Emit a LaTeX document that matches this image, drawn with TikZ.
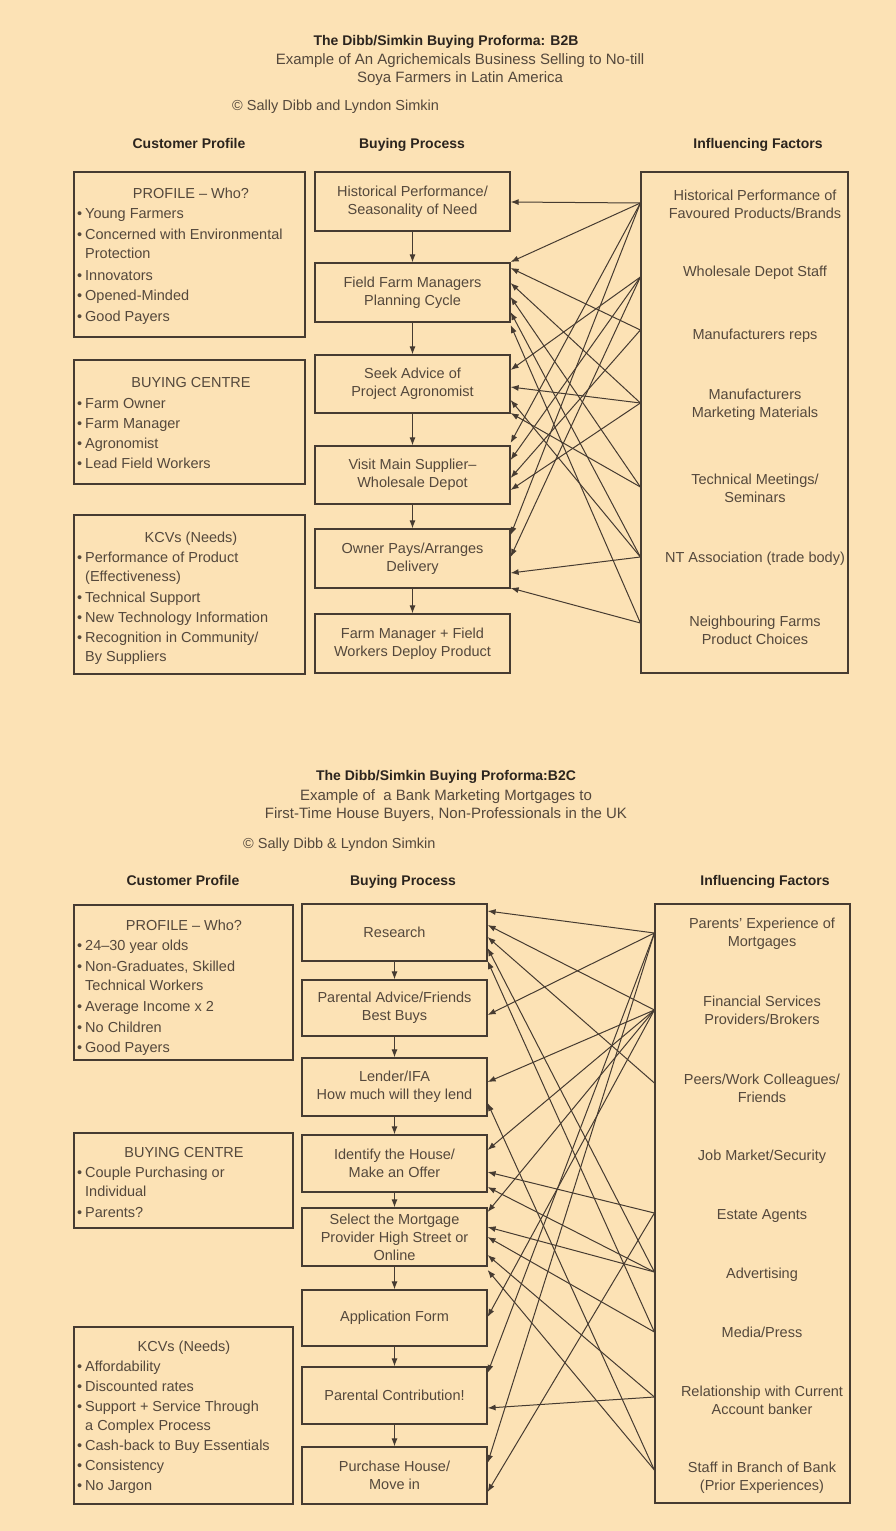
\documentclass[tikz,border=0pt]{standalone}
\usepackage{fontspec}
\setmainfont{Liberation Sans}
\usetikzlibrary{arrows.meta}
\definecolor{paper}{HTML}{FCE2B5}
\definecolor{ink}{HTML}{463B31}
\definecolor{txtc}{HTML}{54483C}
\definecolor{headc}{HTML}{2B241E}
\newcommand{\fbody}{\fontsize{14.5}{18}\selectfont}
\newcommand{\fsub}{\fontsize{15}{18}\selectfont}
\newcommand{\fhead}{\fontsize{14}{17}\selectfont\bfseries}
\newcommand{\bul}{\makebox[8pt][l]{\textbullet}}
\newcommand{\ind}{\hspace*{8pt}}
\begin{document}
\begin{tikzpicture}[x=1pt,y=-1pt,
  frame/.style={draw=ink,line width=1.2pt,inner sep=0pt},
  pbox/.style={frame,align=center,font=\fbody,text=txtc},
  lbl/.style={inner sep=0pt,font=\fbody,text=txtc},
  line/.style={lbl,anchor=base west},
  cline/.style={lbl,anchor=base},
  sub/.style={cline,font=\fsub},
  ttl/.style={inner sep=0pt,font=\fhead,text=headc,anchor=base},
  conn/.style={draw=ink,line width=1pt,-{Latex[length=8pt,width=6pt]}},
  flow/.style={conn}]
\fill[paper] (0,0) rectangle (896,1531);

% ================= B2B =================
\node[ttl] (tA) at (446,45) {The Dibb/Simkin Buying Proforma: B2B};
\node[sub] (sA1) at (460,64) {Example of An Agrichemicals Business Selling to No-till};
\node[sub] (sA2) at (460,82) {Soya Farmers in Latin America};
\node[line] (cA) at (232,110) {\textcopyright\ Sally Dibb and Lyndon Simkin};
\node[ttl] (hA1) at (189,148) {Customer Profile};
\node[ttl] (hA2) at (412,148) {Buying Process};
\node[ttl] (hA3) at (758,148) {Influencing Factors};

% customer profile boxes
\node[frame,minimum width=231pt,minimum height=165pt] (a1) at (189.5,254.5) {};
\node[frame,minimum width=231pt,minimum height=124pt] (a2) at (189.5,422) {};
\node[frame,minimum width=231pt,minimum height=159pt] (a3) at (189.5,594.5) {};

\node[cline] (a1h) at (191,198) {PROFILE -- Who?};
\node[line] (a1i1) at (77,218) {\bul Young Farmers};
\node[line] (a1i2) at (77,239) {\bul Concerned with Environmental};
\node[line] (a1i3) at (77,258) {\ind Protection};
\node[line] (a1i4) at (77,280) {\bul Innovators};
\node[line] (a1i5) at (77,300) {\bul Opened-Minded};
\node[line] (a1i6) at (77,321) {\bul Good Payers};

\node[cline] (a2h) at (191,387) {BUYING CENTRE};
\node[line] (a2i1) at (77,408) {\bul Farm Owner};
\node[line] (a2i2) at (77,428) {\bul Farm Manager};
\node[line] (a2i3) at (77,448) {\bul Agronomist};
\node[line] (a2i4) at (77,468) {\bul Lead Field Workers};

\node[cline] (a3h) at (191,542) {KCVs (Needs)};
\node[line] (a3i1) at (77,562) {\bul Performance of Product};
\node[line] (a3i2) at (77,581) {\ind (Effectiveness)};
\node[line] (a3i3) at (77,602) {\bul Technical Support};
\node[line] (a3i4) at (77,622) {\bul New Technology Information};
\node[line] (a3i5) at (77,642) {\bul Recognition in Community/};
\node[line] (a3i6) at (77,661) {\ind By Suppliers};

% buying process
\node[pbox,minimum width=195pt,minimum height=59pt] (p1) at (412.5,201.5) {Historical Performance/\\Seasonality of Need};
\node[pbox,minimum width=195pt,minimum height=59pt] (p2) at (412.5,292.5) {Field Farm Managers\\Planning Cycle};
\node[pbox,minimum width=195pt,minimum height=58pt] (p3) at (412.5,384) {Seek Advice of\\Project Agronomist};
\node[pbox,minimum width=195pt,minimum height=58pt] (p4) at (412.5,475) {Visit Main Supplier--\\Wholesale Depot};
\node[pbox,minimum width=195pt,minimum height=59pt] (p5) at (412.5,558.5) {Owner Pays/Arranges\\Delivery};
\node[pbox,minimum width=195pt,minimum height=59pt] (p6) at (412.5,643.5) {Farm Manager + Field\\Workers Deploy Product};
\foreach \u/\v in {p1/p2,p2/p3,p3/p4,p4/p5,p5/p6} \draw[flow] (\u.south) -- (\v.north);

% influencing factors
\node[frame,minimum width=207pt,minimum height=501pt] (fA) at (744.5,422.5) {};
\node[lbl,align=center] (fA1) at (755,204) {Historical Performance of\\Favoured Products/Brands};
\node[lbl,align=center] (fA2) at (755,273) {Wholesale Depot Staff};
\node[lbl,align=center] (fA3) at (755,336) {Manufacturers reps};
\node[lbl,align=center] (fA4) at (755,405) {Manufacturers\\Marketing Materials};
\node[lbl,align=center] (fA5) at (755,488) {Technical Meetings/\\Seminars};
\node[lbl,align=center] (fA6) at (755,559) {NT Association (trade body)};
\node[lbl,align=center] (fA7) at (755,630) {Neighbouring Farms\\Product Choices};

\coordinate (bH) at (fA.west |- 0,203);
\coordinate (bW) at (fA.west |- 0,277);
\coordinate (bR) at (fA.west |- 0,330);
\coordinate (bM) at (fA.west |- 0,403);
\coordinate (bT) at (fA.west |- 0,487);
\coordinate (bN) at (fA.west |- 0,557);
\coordinate (bF) at (fA.west |- 0,623);

\foreach \s/\t/\y in {bH/p1/202, bH/p2/262, bH/p4/443, bH/p5/535,
                      bW/p3/370, bW/p4/460, bW/p5/557,
                      bR/p2/268, bR/p4/478,
                      bM/p2/283, bM/p3/387, bM/p4/490,
                      bT/p2/297, bT/p3/413,
                      bN/p2/312, bN/p3/400, bN/p5/573,
                      bF/p2/325, bF/p5/588}
  \draw[conn] (\s) -- (\t.east |- 0,\y);

% ================= B2C =================
\node[ttl] (tB) at (446,780) {The Dibb/Simkin Buying Proforma:B2C};
\node[sub] (sB1) at (446,800) {Example of \ a Bank Marketing Mortgages to};
\node[sub] (sB2) at (446,818) {First-Time House Buyers, Non-Professionals in the UK};
\node[line] (cB) at (243,848) {\textcopyright\ Sally Dibb \& Lyndon Simkin};
\node[ttl] (hB1) at (183,885) {Customer Profile};
\node[ttl] (hB2) at (403,885) {Buying Process};
\node[ttl] (hB3) at (765,885) {Influencing Factors};

\node[frame,minimum width=219pt,minimum height=155pt] (c1) at (183.5,982.5) {};
\node[frame,minimum width=219pt,minimum height=95pt] (c2) at (183.5,1180.5) {};
\node[frame,minimum width=219pt,minimum height=177pt] (c3) at (183.5,1415.5) {};

\node[cline] (c1h) at (184,930) {PROFILE -- Who?};
\node[line] (c1i1) at (77,950) {\bul 24--30 year olds};
\node[line] (c1i2) at (77,971) {\bul Non-Graduates, Skilled};
\node[line] (c1i3) at (77,990) {\ind Technical Workers};
\node[line] (c1i4) at (77,1011) {\bul Average Income x 2};
\node[line] (c1i5) at (77,1032) {\bul No Children};
\node[line] (c1i6) at (77,1052) {\bul Good Payers};

\node[cline] (c2h) at (184,1157) {BUYING CENTRE};
\node[line] (c2i1) at (77,1177) {\bul Couple Purchasing or};
\node[line] (c2i2) at (77,1196) {\ind Individual};
\node[line] (c2i3) at (77,1217) {\bul Parents?};

\node[cline] (c3h) at (184,1351) {KCVs (Needs)};
\node[line] (c3i1) at (77,1371) {\bul Affordability};
\node[line] (c3i2) at (77,1391) {\bul Discounted rates};
\node[line] (c3i3) at (77,1411) {\bul Support + Service Through};
\node[line] (c3i4) at (77,1430) {\ind a Complex Process};
\node[line] (c3i5) at (77,1450) {\bul Cash-back to Buy Essentials};
\node[line] (c3i6) at (77,1470) {\bul Consistency};
\node[line] (c3i7) at (77,1490) {\bul No Jargon};

\node[pbox,minimum width=185pt,minimum height=57pt] (q1) at (394.5,932.5) {Research};
\node[pbox,minimum width=185pt,minimum height=56pt] (q2) at (394.5,1008) {Parental Advice/Friends\\Best Buys};
\node[pbox,minimum width=185pt,minimum height=58pt] (q3) at (394.5,1087) {Lender/IFA\\How much will they lend};
\node[pbox,minimum width=185pt,minimum height=57pt] (q4) at (394.5,1163.5) {Identify the House/\\Make an Offer};
\node[pbox,minimum width=185pt,minimum height=58pt] (q5) at (394.5,1237) {Select the Mortgage\\Provider High Street or\\Online};
\node[pbox,minimum width=185pt,minimum height=56pt] (q6) at (394.5,1318) {Application Form};
\node[pbox,minimum width=185pt,minimum height=57pt] (q7) at (394.5,1395.5) {Parental Contribution!};
\node[pbox,minimum width=185pt,minimum height=57pt] (q8) at (394.5,1475.5) {Purchase House/\\Move in};
\foreach \u/\v in {q1/q2,q2/q3,q3/q4,q4/q5,q5/q6,q6/q7,q7/q8} \draw[flow] (\u.south) -- (\v.north);

\node[frame,minimum width=195pt,minimum height=599pt] (fB) at (752.5,1203.5) {};
\node[lbl,align=center] (fB1) at (762,934) {Parents' Experience of\\Mortgages};
\node[lbl,align=center] (fB2) at (762,1010) {Financial Services\\Providers/Brokers};
\node[lbl,align=center] (fB3) at (762,1088) {Peers/Work Colleagues/\\Friends};
\node[lbl,align=center] (fB4) at (762,1157) {Job Market/Security};
\node[lbl,align=center] (fB5) at (762,1216) {Estate Agents};
\node[lbl,align=center] (fB6) at (762,1275) {Advertising};
\node[lbl,align=center] (fB7) at (762,1332) {Media/Press};
\node[lbl,align=center] (fB8) at (762,1400) {Relationship with Current\\Account banker};
\node[lbl,align=center] (fB9) at (762,1478) {Staff in Branch of Bank\\(Prior Experiences)};

\coordinate (dPa) at (fB.west |- 0,933);
\coordinate (dFi) at (fB.west |- 0,1010);
\coordinate (dPe) at (fB.west |- 0,1083);
\coordinate (dEs) at (fB.west |- 0,1213);
\coordinate (dAd) at (fB.west |- 0,1272);
\coordinate (dMe) at (fB.west |- 0,1332);
\coordinate (dRe) at (fB.west |- 0,1397);
\coordinate (dSt) at (fB.west |- 0,1470);

\foreach \s/\t/\y in {dPa/q1/911, dPa/q2/1015, dPa/q7/1373, dPa/q8/1463,
                      dFi/q1/925, dFi/q3/1082, dFi/q4/1150, dFi/q5/1212, dFi/q6/1317,
                      dPe/q1/937,
                      dEs/q4/1172, dEs/q8/1492,
                      dAd/q1/948, dAd/q4/1187, dAd/q5/1227,
                      dMe/q1/961, dMe/q5/1237,
                      dRe/q5/1255, dRe/q7/1408,
                      dSt/q3/1103, dSt/q5/1270}
  \draw[conn] (\s) -- (\t.east |- 0,\y);
\end{tikzpicture}
\end{document}
